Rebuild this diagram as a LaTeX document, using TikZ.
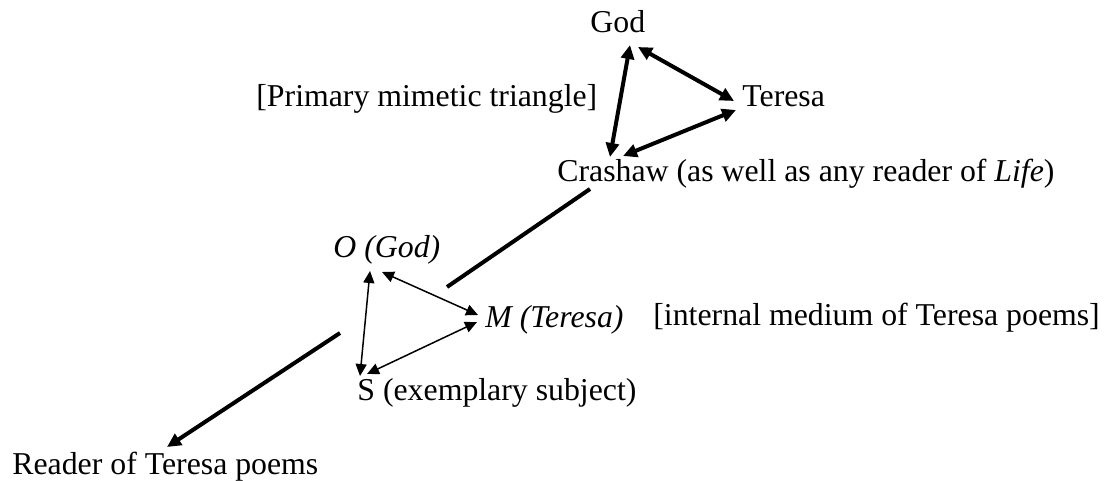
\documentclass[tikz,border=0pt]{standalone}
\usepackage{fontspec}
\setmainfont{Liberation Serif}
\usetikzlibrary{arrows.meta}
\begin{document}
\begin{tikzpicture}[x=0.5pt,y=-0.5pt,
  lbl/.style={anchor=base west,inner sep=0pt,font=\fontsize{15.9}{19}\selectfont},
  thickarr/.style={line width=2pt,{Triangle[length=7pt,width=6.5pt]}-{Triangle[length=7pt,width=6.5pt]}},
  thinarr/.style={line width=0.75pt,{Triangle[length=6pt,width=5.5pt]}-{Triangle[length=6pt,width=5.5pt]}},
  thickline/.style={line width=2pt},
  thickone/.style={line width=2pt,-{Triangle[length=7pt,width=6.5pt]}}]
\useasboundingbox (0,0) rectangle (1113,481);
% labels
\node[lbl] (god) at (590,33) {God};
\node[lbl] (teresa) at (742,106) {Teresa};
\node[lbl] (primary) at (256,106) {[Primary mimetic triangle]};
\node[lbl] (crashaw) at (557,181) {Crashaw (as well as any reader of \textit{Life})};
\node[lbl] (ogod) at (333,257) {\textit{O (God)}};
\node[lbl] (mter) at (485,327) {\textit{M (Teresa)}};
\node[lbl] (internal) at (653,325) {[internal medium of Teresa poems]};
\node[lbl] (subj) at (357,400) {S (exemplary subject)};
\node[lbl] (reader) at (12,474) {Reader of Teresa poems};
% endpoints
\coordinate (gc1) at (630,45);
\coordinate (gc2) at (610,157);
\coordinate (gt1) at (638,47);
\coordinate (gt2) at (734,101);
\coordinate (tc1) at (736,110);
\coordinate (tc2) at (623,156);
\coordinate (cl1) at (590,189);
\coordinate (cl2) at (447,287);
\coordinate (rl1) at (340,333);
\coordinate (rl2) at (167,447);
\coordinate (os1) at (370,271);
\coordinate (os2) at (360,376);
\coordinate (om1) at (382,272);
\coordinate (om2) at (478,315);
\coordinate (ms1) at (477,322);
\coordinate (ms2) at (367,374);
% top triangle
\draw[thickarr] (gc1) -- (gc2);
\draw[thickarr] (gt1) -- (gt2);
\draw[thickarr] (tc1) -- (tc2);
% connectors
\draw[thickline] (cl1) -- (cl2);
\draw[thickone] (rl1) -- (rl2);
% lower triangle
\draw[thinarr] (os1) -- (os2);
\draw[thinarr] (om1) -- (om2);
\draw[thinarr] (ms1) -- (ms2);
\end{tikzpicture}
\end{document}
